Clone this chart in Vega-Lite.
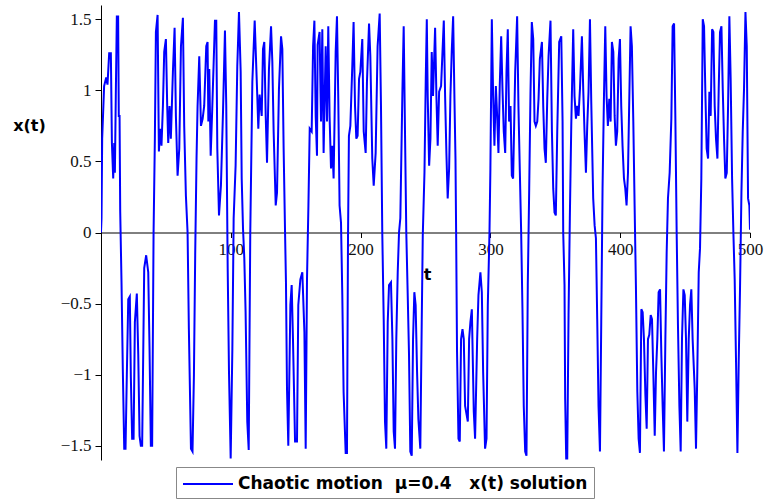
{
  "$schema": "https://vega.github.io/schema/vega-lite/v6.json",
  "width": 649,
  "height": 455,
  "autosize": {"type": "none"},
  "padding": {"left": 101, "top": 5, "right": 18, "bottom": 44},
  "background": "white",
  "config": {"view": {"stroke": null}, "axis": {"grid": false}},
  "data": {"values": [
{"t":0,"x":0},{"t":0.4,"x":0.1},{"t":0.9,"x":0.66},{"t":2.4,"x":1.03},{"t":4.0,"x":1.09},{"t":5.0,"x":1.04},{"t":6.3,"x":1.26},{"t":7.6,"x":1.26},{"t":8.4,"x":0.63},{"t":9.4,"x":0.38},{"t":10.2,"x":0.63},{"t":10.7,"x":0.42},{"t":11.4,"x":0.96},{"t":12.2,"x":1.52},{"t":13.2,"x":1.52},{"t":13.7,"x":0.82},{"t":14.3,"x":0.82},{"t":14.8,"x":0.15},{"t":15.8,"x":-0.35},{"t":16.8,"x":-0.96},{"t":17.9,"x":-1.52},{"t":18.9,"x":-1.52},{"t":19.9,"x":-1.0},{"t":21.0,"x":-0.47},{"t":22.2,"x":-0.45},{"t":23.0,"x":-1.02},{"t":24.0,"x":-1.45},{"t":25.1,"x":-1.45},{"t":26.1,"x":-0.63},{"t":27.6,"x":-0.43},{"t":28.7,"x":-0.86},{"t":29.7,"x":-1.43},{"t":30.7,"x":-1.5},{"t":31.7,"x":-1.5},{"t":33.3,"x":-0.25},{"t":34.8,"x":-0.16},{"t":36.4,"x":-0.28},{"t":37.4,"x":-0.82},{"t":38.4,"x":-1.5},{"t":39.4,"x":-1.5},{"t":40.5,"x":0},{"t":41.5,"x":0.66},{"t":42.3,"x":1.41},{"t":43.6,"x":1.53},{"t":44.6,"x":0.57},{"t":45.6,"x":0.73},{"t":46.6,"x":0.61},{"t":47.7,"x":0.89},{"t":48.7,"x":1.27},{"t":50.0,"x":1.36},{"t":51.0,"x":0.89},{"t":51.8,"x":0.63},{"t":52.8,"x":0.89},{"t":53.8,"x":0.66},{"t":55.4,"x":1.13},{"t":56.7,"x":1.44},{"t":57.7,"x":0.82},{"t":59.0,"x":0.4},{"t":60.3,"x":0.59},{"t":61.6,"x":1.31},{"t":63.1,"x":1.51},{"t":64.1,"x":0.75},{"t":65.4,"x":0.26},{"t":66.7,"x":0},{"t":67.7,"x":-0.68},{"t":69.3,"x":-1.52},{"t":70.5,"x":-1.54},{"t":71.6,"x":-1.0},{"t":72.6,"x":-0.13},{"t":73.6,"x":0.52},{"t":74.4,"x":0.89},{"t":75.7,"x":1.24},{"t":77.0,"x":0.75},{"t":78.3,"x":0.8},{"t":79.5,"x":0.89},{"t":81.1,"x":1.31},{"t":82.1,"x":1.34},
{"t":82.7,"x":0.78},{"t":83.4,"x":1.15},{"t":84.5,"x":0.54},{"t":85.7,"x":0.87},{"t":87.8,"x":1.49},{"t":88.8,"x":1.49},{"t":89.6,"x":0.59},{"t":90.9,"x":0.12},{"t":92.4,"x":0.33},{"t":94.0,"x":0.85},{"t":95.5,"x":1.42},{"t":96.5,"x":0.89},{"t":97.6,"x":-0.25},{"t":98.6,"x":-0.98},{"t":99.9,"x":-1.59},{"t":101.2,"x":-0.82},{"t":102.2,"x":0.1},{"t":103.7,"x":0.47},{"t":105.0,"x":1.17},{"t":106.3,"x":1.55},{"t":107.6,"x":1.13},{"t":108.4,"x":0.38},{"t":109.4,"x":0.03},{"t":110.4,"x":-0.18},{"t":111.4,"x":-0.56},{"t":112.7,"x":-1.33},{"t":113.8,"x":-1.53},{"t":115.0,"x":0},{"t":116.6,"x":1.06},{"t":118.4,"x":1.49},{"t":120.4,"x":0.96},{"t":121.2,"x":0.73},{"t":122.2,"x":0.97},{"t":123.8,"x":0.82},{"t":124.8,"x":1.29},{"t":125.8,"x":1.34},{"t":126.9,"x":0.82},{"t":127.9,"x":0.49},{"t":129.4,"x":1.15},{"t":131.0,"x":1.45},{"t":132.0,"x":1.2},{"t":133.0,"x":0.71},{"t":134.6,"x":0.19},{"t":135.6,"x":0.28},{"t":137.1,"x":1.01},{"t":138.7,"x":1.38},{"t":139.7,"x":1.29},{"t":140.7,"x":0.59},{"t":141.8,"x":0},{"t":142.5,"x":-0.35},{"t":143.3,"x":-1.1},{"t":144.3,"x":-1.5},{"t":145.9,"x":-0.51},{"t":146.9,"x":-0.37},{"t":147.9,"x":-0.75},{"t":149.5,"x":-1.47},{"t":151.0,"x":-1.47},{"t":152.0,"x":-0.51},{"t":153.6,"x":-0.33},{"t":155.1,"x":-0.28},{"t":156.7,"x":-0.7},{"t":157.7,"x":-1.52},{"t":158.7,"x":-0.33},{"t":159.8,"x":0.19},{"t":160.8,"x":0.73},{"t":162.3,"x":0.71},{"t":163.4,"x":1.31},{"t":164.4,"x":1.49},{"t":165.4,"x":0.82},{"t":166.4,"x":0.54},
{"t":166.9,"x":1.32},{"t":168.4,"x":1.41},{"t":169.5,"x":0.78},{"t":170.5,"x":1.43},{"t":171.5,"x":0.56},{"t":173.1,"x":1.31},{"t":174.1,"x":0.78},{"t":175.1,"x":1.45},{"t":176.1,"x":0.82},{"t":177.2,"x":0.45},{"t":178.2,"x":0.61},{"t":179.2,"x":0.38},{"t":180.8,"x":1.27},{"t":181.8,"x":1.52},{"t":182.8,"x":0.94},{"t":183.8,"x":0.19},{"t":184.9,"x":0.07},{"t":185.9,"x":-0.44},{"t":186.9,"x":-1.12},{"t":188.5,"x":-1.55},{"t":189.5,"x":-1.55},{"t":190.3,"x":-0.04},{"t":191.0,"x":0.68},{"t":192.1,"x":0.75},{"t":193.6,"x":1.17},{"t":194.6,"x":1.48},{"t":195.7,"x":0.89},{"t":196.7,"x":0.66},{"t":197.7,"x":0.68},{"t":198.8,"x":1.08},{"t":199.8,"x":1.13},{"t":201.3,"x":1.36},{"t":202.4,"x":0.71},{"t":203.9,"x":0.56},{"t":204.9,"x":1.06},{"t":206.5,"x":1.47},{"t":207.5,"x":1.24},{"t":209.0,"x":0.52},{"t":210.1,"x":0.33},{"t":211.6,"x":0.56},{"t":213.1,"x":1.31},{"t":214.7,"x":1.54},{"t":215.7,"x":0.89},{"t":216.7,"x":0},{"t":217.8,"x":-0.61},{"t":218.8,"x":-1.33},{"t":219.8,"x":-1.52},{"t":220.9,"x":-0.63},{"t":221.9,"x":-0.37},{"t":223.4,"x":-0.35},{"t":224.5,"x":-0.75},{"t":225.5,"x":-1.4},{"t":226.5,"x":-1.52},{"t":227.5,"x":-0.75},{"t":228.6,"x":-0.28},{"t":229.6,"x":0},{"t":230.6,"x":0.1},{"t":232.2,"x":0.99},{"t":233.2,"x":1.45},{"t":234.2,"x":0.71},{"t":235.2,"x":0},{"t":236.3,"x":-0.44},{"t":237.3,"x":-0.86},{"t":238.3,"x":-1.54},{"t":239.4,"x":-1.57},{"t":240.4,"x":-0.75},{"t":241.4,"x":-0.42},{"t":242.4,"x":-0.51},{"t":243.5,"x":-0.98},{"t":244.5,"x":-1.31},{"t":246.0,"x":-1.52},{"t":247.1,"x":-0.63},
{"t":247.9,"x":-0.02},{"t":249.2,"x":0.42},{"t":250.2,"x":1.08},{"t":251.0,"x":1.5},{"t":251.7,"x":0.96},{"t":252.8,"x":0.47},{"t":253.8,"x":0.66},{"t":254.8,"x":1.27},{"t":255.8,"x":0.96},{"t":257.4,"x":1.44},{"t":258.4,"x":0.96},{"t":259.4,"x":0.61},{"t":260.5,"x":0.99},{"t":262.0,"x":1.03},{"t":264.1,"x":1.49},{"t":265.1,"x":0.96},{"t":266.1,"x":0.56},{"t":267.1,"x":0.24},{"t":268.2,"x":0.45},{"t":269.2,"x":0.96},{"t":270.2,"x":1.27},{"t":271.3,"x":1.52},{"t":272.3,"x":0.94},{"t":273.1,"x":0.52},{"t":273.6,"x":0},{"t":274.3,"x":-0.84},{"t":275.4,"x":-1.45},{"t":276.4,"x":-1.47},{"t":277.4,"x":-0.75},{"t":278.5,"x":-0.68},{"t":279.5,"x":-0.75},{"t":280.5,"x":-1.22},{"t":282.6,"x":-1.33},{"t":283.6,"x":-0.75},{"t":284.6,"x":-0.63},{"t":285.7,"x":-0.54},{"t":287.2,"x":-1.26},{"t":288.2,"x":-1.45},{"t":289.8,"x":-0.75},{"t":290.8,"x":-0.44},{"t":292.3,"x":-0.28},{"t":293.4,"x":-0.42},{"t":294.4,"x":-0.98},{"t":295.9,"x":-1.52},{"t":297.0,"x":-1.45},{"t":298.0,"x":-0.51},{"t":299.3,"x":0},{"t":300.0,"x":0.45},{"t":301.1,"x":1.5},{"t":302.1,"x":0.96},{"t":303.1,"x":0.61},{"t":304.2,"x":1.03},{"t":305.2,"x":0.82},{"t":306.2,"x":0.56},{"t":307.2,"x":1.03},{"t":308.3,"x":1.38},{"t":309.3,"x":1.01},{"t":310.3,"x":0.71},{"t":311.4,"x":0.56},{"t":312.4,"x":1.13},{"t":313.4,"x":1.43},{"t":314.4,"x":0.78},{"t":315.5,"x":0.89},{"t":316.5,"x":0.4},{"t":317.5,"x":0.38},{"t":319.1,"x":1.13},{"t":320.6,"x":1.52},{"t":321.6,"x":0.89},{"t":322.7,"x":0.42},{"t":323.7,"x":0},{"t":324.7,"x":-0.54},{"t":325.7,"x":-1.22},{"t":326.8,"x":-1.54},{"t":327.8,"x":-1.57},{"t":328.8,"x":-0.37},{"t":329.9,"x":0.31},{"t":330.9,"x":0.99},
{"t":331.9,"x":1.48},{"t":333.0,"x":1.36},{"t":334.0,"x":0.78},{"t":335.0,"x":0.75},{"t":336.1,"x":0.78},{"t":337.1,"x":0.94},{"t":338.1,"x":1.22},{"t":339.7,"x":1.34},{"t":340.7,"x":0.89},{"t":341.7,"x":0.59},{"t":342.7,"x":0.49},{"t":343.8,"x":0.94},{"t":344.8,"x":1.24},{"t":346.3,"x":1.49},{"t":347.4,"x":0.71},{"t":348.4,"x":0.31},{"t":349.4,"x":0.14},{"t":350.4,"x":0.12},{"t":351.5,"x":0.71},{"t":353.0,"x":1.34},{"t":354.6,"x":1.38},{"t":355.6,"x":0.78},{"t":356.1,"x":0},{"t":357.1,"x":-0.37},{"t":357.6,"x":-1.17},{"t":358.4,"x":-1.59},{"t":359.2,"x":-1.59},{"t":360.2,"x":-0.58},{"t":361.2,"x":0.1},{"t":362.3,"x":0.75},{"t":363.8,"x":1.43},{"t":364.8,"x":0.96},{"t":365.9,"x":0.8},{"t":366.9,"x":0.89},{"t":367.9,"x":0.82},{"t":369.0,"x":1.01},{"t":370.5,"x":1.38},{"t":371.5,"x":1.01},{"t":372.5,"x":0.71},{"t":373.6,"x":0.42},{"t":374.6,"x":0.75},{"t":375.6,"x":0.99},{"t":376.7,"x":1.5},{"t":377.7,"x":0.92},{"t":379.2,"x":0.24},{"t":380.3,"x":0.05},{"t":381.3,"x":-0.04},{"t":382.3,"x":-0.61},{"t":383.3,"x":-1.22},{"t":384.4,"x":-1.54},{"t":385.4,"x":-0.63},{"t":386.4,"x":0.31},{"t":387.5,"x":0.96},{"t":388.5,"x":1.45},{"t":389.5,"x":0.96},{"t":390.5,"x":0.75},{"t":391.6,"x":0.94},{"t":392.6,"x":0.78},{"t":393.6,"x":1.34},{"t":394.7,"x":1.27},{"t":395.7,"x":0.82},{"t":396.7,"x":0.61},{"t":397.7,"x":0.71},{"t":398.8,"x":1.22},{"t":399.8,"x":1.36},{"t":400.8,"x":0.89},{"t":401.8,"x":0.61},{"t":402.9,"x":0.38},{"t":403.9,"x":0.31},{"t":404.9,"x":0.19},{"t":406.0,"x":0.42},{"t":407.0,"x":0.94},{"t":408.0,"x":1.45},{"t":409.0,"x":1.31},{"t":410.1,"x":0.78},{"t":411.1,"x":0.19},{"t":412.1,"x":-0.37},{"t":413.2,"x":-1.12},{"t":414.2,"x":-1.45},{"t":415.2,"x":-1.55},
{"t":416.3,"x":-0.54},{"t":417.3,"x":-0.56},{"t":418.3,"x":-0.75},{"t":419.4,"x":-1.14},{"t":420.4,"x":-1.38},{"t":421.4,"x":-0.75},{"t":422.4,"x":-0.72},{"t":423.5,"x":-0.58},{"t":424.5,"x":-0.61},{"t":425.5,"x":-0.98},{"t":426.6,"x":-1.43},{"t":427.6,"x":-0.98},{"t":428.6,"x":-0.75},{"t":429.6,"x":-0.42},{"t":430.7,"x":-0.4},{"t":431.7,"x":-0.86},{"t":432.7,"x":-1.22},{"t":433.7,"x":-1.54},{"t":434.8,"x":-0.75},{"t":435.8,"x":-0.14},{"t":436.8,"x":0.24},{"t":438.1,"x":0.42},{"t":439.4,"x":0.8},{"t":440.4,"x":1.45},{"t":441.5,"x":1.47},{"t":442.5,"x":0.8},{"t":443.5,"x":0},{"t":444.5,"x":-0.65},{"t":445.6,"x":-1.22},{"t":446.6,"x":-1.54},{"t":447.6,"x":-0.75},{"t":448.7,"x":-0.4},{"t":449.7,"x":-0.44},{"t":450.7,"x":-0.75},{"t":451.7,"x":-1.33},{"t":452.8,"x":-0.75},{"t":453.8,"x":-0.51},{"t":454.8,"x":-0.4},{"t":455.8,"x":-0.75},{"t":457.4,"x":-1.1},{"t":458.4,"x":-1.52},{"t":459.4,"x":-0.98},{"t":460.5,"x":-0.28},{"t":461.5,"x":-0.11},{"t":462.5,"x":0.38},{"t":463.6,"x":1.5},{"t":464.6,"x":1.45},{"t":465.6,"x":0.99},{"t":466.6,"x":0.59},{"t":467.7,"x":0.52},{"t":468.7,"x":0.99},{"t":469.7,"x":0.82},{"t":470.8,"x":1.43},{"t":471.8,"x":1.41},{"t":472.8,"x":0.89},{"t":473.8,"x":0.66},{"t":474.9,"x":0.52},{"t":475.9,"x":1.01},{"t":476.9,"x":1.41},{"t":478.0,"x":1.45},{"t":479.0,"x":1.01},{"t":480.0,"x":0.66},{"t":481.0,"x":0.38},{"t":482.1,"x":0.42},{"t":483.1,"x":0.89},{"t":484.1,"x":1.52},{"t":485.1,"x":1.08},{"t":486.2,"x":0.38},{"t":487.2,"x":0},{"t":488.2,"x":-0.33},{"t":489.3,"x":-0.94},{"t":490.3,"x":-1.55},{"t":491.3,"x":-0.91},{"t":492.3,"x":-0.4},{"t":493.4,"x":0.28},{"t":494.4,"x":0.71},{"t":495.4,"x":1.01},{"t":496.5,"x":1.55},{"t":497.5,"x":1.31},{"t":498.5,"x":0.24},{"t":499.5,"x":0.19},{"t":500,"x":0.02}
  ]},
  "mark": {"type": "line", "strokeWidth": 2, "clip": true},
  "encoding": {
    "x": {
      "field": "t", "type": "quantitative",
      "scale": {"domain": [0, 500], "nice": false, "zero": false},
      "axis": {
        "orient": "bottom", "offset": -227.5,
        "values": [100, 200, 300, 400, 500], "format": "d",
        "title": "t", "titleFont": "DejaVu Sans", "titleFontWeight": "bold", "titleFontSize": 16, "titleColor": "#000",
        "titleX": 326, "titleY": 42, "titleAlign": "center", "titleBaseline": "middle",
        "labelFont": "Liberation Serif", "labelFontSize": 17, "labelColor": "#111", "labelPadding": 4, "labelFlush": false,
        "tickSize": 5, "tickColor": "#000", "domainColor": "#000", "domainWidth": 1, "tickWidth": 1
      }
    },
    "y": {
      "field": "x", "type": "quantitative",
      "scale": {"domain": [-1.6, 1.6], "nice": false, "zero": false},
      "axis": {
        "orient": "left",
        "values": [-1.5, -1, -0.5, 0, 0.5, 1, 1.5], "format": "~g",
        "title": "x(t)", "titleAngle": 0, "titleFont": "DejaVu Sans", "titleFontWeight": "bold", "titleFontSize": 16, "titleColor": "#000",
        "titleX": -72, "titleY": 120, "titleAlign": "center", "titleBaseline": "middle",
        "labelFont": "Liberation Serif", "labelFontSize": 17, "labelColor": "#111", "labelPadding": 4,
        "tickSize": 6, "tickColor": "#000", "domainColor": "#000", "domainWidth": 1, "tickWidth": 1
      }
    },
    "color": {
      "datum": "Chaotic motion\u00a0 μ=0.4\u00a0\u00a0 x(t) solution",
      "type": "nominal",
      "scale": {"range": ["#0000ff"]},
      "legend": {
        "orient": "none", "legendX": 75, "legendY": 462, "title": null,
        "symbolType": "M-1,0H4", "symbolSize": 400, "symbolStrokeWidth": 2, "symbolStrokeColor": "#0000ff",
        "labelFont": "DejaVu Sans", "labelFontWeight": "bold", "labelFontSize": 17, "labelColor": "#000", "labelLimit": 0, "labelOffset": 34,
        "strokeColor": "#888", "padding": 6, "fillColor": "white"
      }
    }
  }
}
